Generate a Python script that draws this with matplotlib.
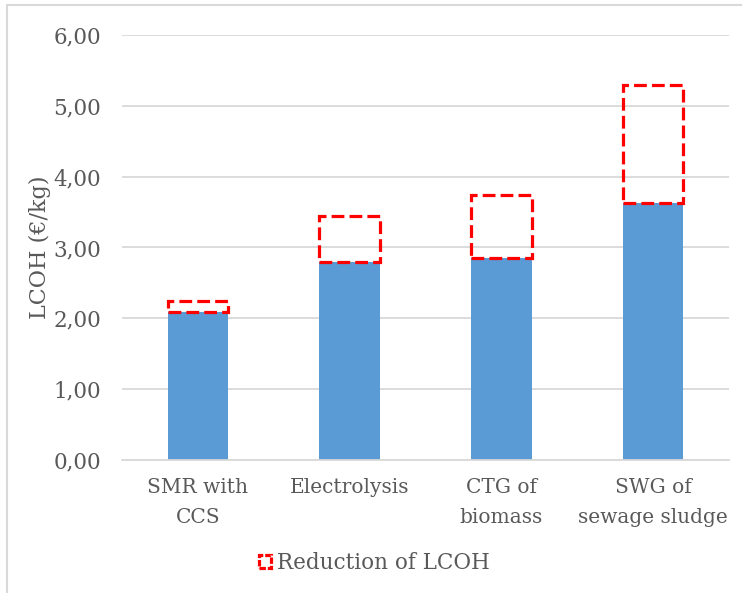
import numpy as np
import matplotlib.pyplot as plt
from matplotlib.patches import Patch, Rectangle
from matplotlib.ticker import FuncFormatter

categories = ["SMR with\nCCS", "Electrolysis", "CTG of\nbiomass", "SWG of\nsewage sludge"]
lcoh_reduced = [2.09, 2.80, 2.85, 3.63]
lcoh_current = [2.25, 3.44, 3.74, 5.29]

plt.rcParams['font.family'] = ['DejaVu Serif']
grey = "#595959"

fig = plt.figure(figsize=(7.42, 5.93), dpi=100)
ax = fig.add_axes([0.1644, 0.2243, 0.8181, 0.7167])

# outer chart border (only left/top visible in the crop)
fig.patches.append(Rectangle((7 / 742, -0.1), 1.2, 1 - 5 / 593 + 0.1, transform=fig.transFigure,
                             fill=False, edgecolor="#d9d9d9", linewidth=1.5))

x = np.arange(len(categories))
ax.bar(x, lcoh_reduced, width=0.4, color="#5b9bd5", zorder=2)
reduction = np.array(lcoh_current) - np.array(lcoh_reduced)
ax.bar(x, reduction, bottom=lcoh_reduced, width=0.4, fill=False, edgecolor="#ff0000",
       linestyle=(0, (4, 1.6)), linewidth=2.3, zorder=3)

ax.set_xlim(-0.5, 3.5)
ax.set_ylim(0, 6)
ax.set_yticks(np.arange(0, 7, 1))
ax.yaxis.set_major_formatter(FuncFormatter(lambda v, p: f"{v:.2f}".replace(".", ",")))
ax.grid(axis="y", color="#d9d9d9", linewidth=1.3, zorder=0)
ax.set_axisbelow(True)
for s in ["top", "right", "left"]:
    ax.spines[s].set_visible(False)
ax.spines["bottom"].set_color("#d9d9d9")
ax.spines["bottom"].set_linewidth(1.3)
ax.tick_params(length=0, colors=grey)
ax.tick_params(axis="x", labelsize=14.5, pad=13)
ax.tick_params(axis="y", labelsize=15.5, pad=15)
ax.set_xticks(x)
ax.set_xticklabels(categories, linespacing=1.7)
ax.set_ylabel("LCOH (€/kg)", fontsize=16, color=grey, labelpad=2)

handle = Patch(fill=False, edgecolor="#ff0000", linestyle=(0, (2, 0.6)), linewidth=2.3)
fig.legend([handle], ["Reduction of LCOH"], loc="center", bbox_to_anchor=(0.505, 1 - 563 / 593),
           frameon=False, fontsize=15.5, labelcolor=grey, handlelength=0.55, handleheight=0.55,
           handletextpad=0.3)

fig.savefig("out.png", dpi=100)
